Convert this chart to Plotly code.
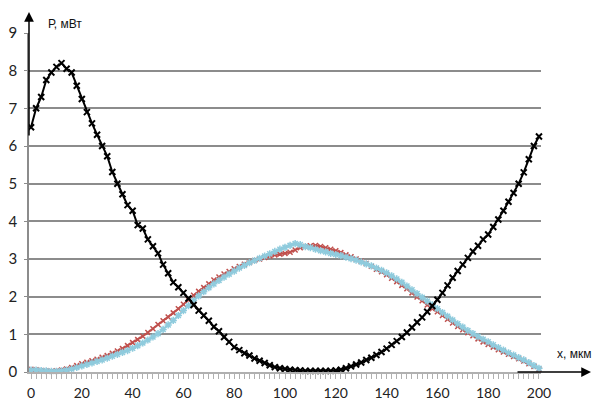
import plotly.graph_objects as go

x_um = list(range(0, 201, 2))

p_black = [
    6.5, 7.0, 7.3, 7.75, 7.95, 8.1, 8.2, 8.05, 7.95, 7.6,
    7.25, 6.9, 6.6, 6.3, 6.0, 5.73, 5.31, 5.0, 4.72, 4.43,
    4.28, 3.9, 3.81, 3.52, 3.34, 3.15, 2.85, 2.62, 2.38, 2.25,
    2.1, 1.95, 1.78, 1.63, 1.5, 1.36, 1.2, 1.08, 0.93, 0.8,
    0.66, 0.58, 0.5, 0.44, 0.36, 0.3, 0.24, 0.18, 0.13, 0.1,
    0.08, 0.06, 0.05, 0.04, 0.03, 0.03, 0.03, 0.03, 0.03, 0.03,
    0.04, 0.06, 0.1, 0.15, 0.2, 0.25, 0.32, 0.38, 0.45, 0.53,
    0.62, 0.72, 0.82, 0.93, 1.05, 1.18, 1.32, 1.45, 1.6, 1.75,
    1.92, 2.1, 2.3, 2.5, 2.68, 2.85, 3.03, 3.2, 3.35, 3.52,
    3.65, 3.85, 4.05, 4.28, 4.52, 4.75, 5.0, 5.3, 5.65, 6.0,
    6.25,
]

p_red = [
    0.07, 0.06, 0.04, 0.03, 0.02, 0.03, 0.05, 0.08, 0.12, 0.17,
    0.22, 0.26, 0.3, 0.34, 0.39, 0.44, 0.5, 0.56, 0.62, 0.7,
    0.78, 0.86, 0.95, 1.05, 1.15, 1.26, 1.36, 1.46, 1.57, 1.68,
    1.8, 1.92, 2.04, 2.14, 2.24, 2.34, 2.44, 2.52, 2.6, 2.67,
    2.74, 2.8, 2.86, 2.91, 2.96, 3.0, 3.04, 3.08, 3.11, 3.13,
    3.15, 3.18, 3.24, 3.3, 3.33, 3.35, 3.36, 3.33, 3.3, 3.26,
    3.22, 3.17, 3.11, 3.06, 3.0, 2.94, 2.88, 2.81, 2.73, 2.66,
    2.58, 2.49, 2.4, 2.3, 2.21, 2.1, 1.99, 1.89, 1.78, 1.68,
    1.6, 1.5, 1.4, 1.3, 1.21, 1.12, 1.04, 0.96, 0.88, 0.8,
    0.73, 0.66, 0.59, 0.53, 0.47, 0.41, 0.35, 0.29, 0.22, 0.15,
    0.08,
]

p_blue = [
    0.05, 0.05, 0.04, 0.03, 0.02, 0.02, 0.03, 0.05, 0.08, 0.12,
    0.16, 0.2, 0.24, 0.28, 0.32, 0.37, 0.42, 0.47, 0.52, 0.57,
    0.63, 0.7, 0.77, 0.85, 0.93, 1.02, 1.13, 1.25, 1.37, 1.5,
    1.63, 1.76, 1.9, 2.02, 2.13, 2.24, 2.34, 2.43, 2.52, 2.6,
    2.68, 2.76, 2.83, 2.9, 2.96, 3.02, 3.08, 3.14, 3.2, 3.26,
    3.31, 3.36, 3.41, 3.38, 3.33, 3.3, 3.26, 3.22, 3.19, 3.15,
    3.12, 3.09, 3.05, 3.01, 2.97, 2.92, 2.87, 2.82, 2.76, 2.7,
    2.63, 2.55, 2.47, 2.38, 2.28, 2.18, 2.08, 1.98, 1.88, 1.78,
    1.68, 1.58, 1.48, 1.38, 1.28, 1.19, 1.1, 1.02, 0.94, 0.87,
    0.8, 0.72, 0.65, 0.58, 0.51, 0.45, 0.38, 0.32, 0.25, 0.17,
    0.1,
]

x_ticks = list(range(0, 201, 20))
y_ticks = list(range(0, 10))

fig = go.Figure()
fig.add_trace(go.Scatter(
    x=x_um, y=p_red, mode="lines+markers",
    line=dict(color="#C0504D", width=2),
    marker=dict(symbol="x-thin", size=5, line=dict(color="#C0504D", width=1.5)),
    showlegend=False, cliponaxis=False))
fig.add_trace(go.Scatter(
    x=x_um, y=p_blue, mode="lines+markers",
    line=dict(color="#8FCBDD", width=2),
    marker=dict(symbol="asterisk", size=6, line=dict(color="#8FCBDD", width=1.5)),
    showlegend=False, cliponaxis=False))
fig.add_trace(go.Scatter(
    x=x_um, y=p_black, mode="lines+markers",
    line=dict(color="black", width=2),
    marker=dict(symbol="x-thin", size=6, line=dict(color="black", width=2)),
    showlegend=False, cliponaxis=False))

fig.update_layout(
    width=593, height=401,
    margin=dict(l=29, r=52, t=33, b=29, autoexpand=False),
    plot_bgcolor="white", paper_bgcolor="white",
    font=dict(family="Lato, Liberation Sans, sans-serif", color="#222"),
)
fig.update_xaxes(
    automargin=False,
    range=[-0.8, 200.8], tickvals=x_ticks, ticktext=[str(v) for v in x_ticks],
    showgrid=False, zeroline=False,
    showline=True, linecolor="#b0b0b0", linewidth=1.5,
    ticks="outside", ticklen=5, tickcolor="#b0b0b0", tickwidth=1,
    minor=dict(dtick=2, tick0=0, ticks="outside", ticklen=5, tickcolor="#b0b0b0", tickwidth=1),
    tickfont=dict(size=14, color="#222"), ticklabelstandoff=2,
)
fig.update_yaxes(
    automargin=False,
    range=[0, 9], tickvals=y_ticks,
    showgrid=True, gridcolor="#8c8c8c", gridwidth=1.5,
    zeroline=False, showline=True, linecolor="#8c8c8c", linewidth=1.5,
    ticks="outside", ticklen=3, tickcolor="#8c8c8c",
    tickfont=dict(size=15, color="#222"), ticklabelstandoff=4,
)

# axis arrows
fig.add_annotation(xref="paper", yref="paper", x=0, y=(372 - 12) / 339,
                   ax=0, ay=125, axref="pixel", ayref="pixel", text="",
                   showarrow=True, arrowhead=2, arrowsize=1.3, arrowwidth=1.5,
                   arrowcolor="black")
fig.add_annotation(xref="paper", yref="paper", x=(591 - 29) / 512, y=0,
                   ax=-75, ay=0, text="",
                   showarrow=True, arrowhead=2, arrowsize=1.3, arrowwidth=1.5,
                   arrowcolor="black")
fig.add_annotation(xref="paper", yref="paper", x=(46 - 29) / 512, y=(372 - 24) / 339,
                   xanchor="left", yanchor="middle", text="Р, мВт", showarrow=False,
                   font=dict(family="Liberation Sans, Arial", size=12, color="#111"))
fig.add_annotation(xref="paper", yref="paper", x=(593 - 29) / 512, y=(372 - 354) / 339,
                   xanchor="right", yanchor="middle", text="х, мкм", showarrow=False,
                   font=dict(family="Liberation Sans, Arial", size=12, color="#111"))

fig.write_html("out.html")
